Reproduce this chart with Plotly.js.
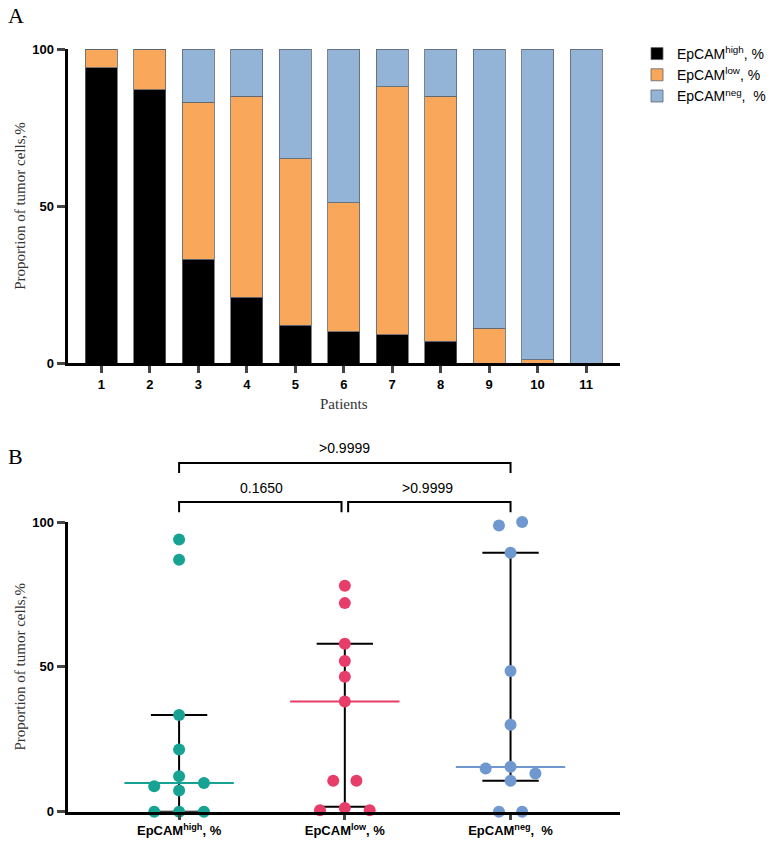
<!DOCTYPE html>
<html>
<head>
<meta charset="utf-8">
<script src="https://cdn.plot.ly/plotly-3.0.1.min.js"></script>
<style>
    html, body { margin: 0; padding: 0; background: #fff; }
    #chart { width: 771px; height: 844px; }
</style>
</head>
<body>
<div id="chart"></div>
<script>
// Panel A: stacked proportions per patient
const patients = [1, 2, 3, 4, 5, 6, 7, 8, 9, 10, 11];
const highPct = [94, 87, 33, 21, 12, 10, 9, 7, 0, 0, 0];
const lowPct = [6, 13, 50, 64, 53, 41, 79, 78, 11, 1, 0];
const negPct = [0, 0, 17, 15, 35, 49, 12, 15, 89, 99, 100];
const seriesNames = ['EpCAM<sup>high</sup>, %', 'EpCAM<sup>low</sup>, %', 'EpCAM<sup>neg</sup>,  %'];

// Panel B: individual values per group (with horizontal scatter offset)
const groupLabels = ['EpCAM<sup>high</sup>, %', 'EpCAM<sup>low</sup>, %', 'EpCAM<sup>neg</sup>,  %'];
const highVals = [94, 87, 33.4, 21.5, 12.2, 9.9, 8.8, 7.3, 0, 0, 0];
const highJitter = [0, 0, 0, 0, 0, 0.15, -0.15, 0, -0.15, 0, 0.15];
const lowVals = [78, 72, 58, 52, 46.6, 38, 10.7, 10.7, 1.3, 0.5, 0.5];
const lowJitter = [0, 0, 0, 0, 0, 0, -0.07, 0.07, 0, -0.15, 0.15];
const negVals = [100, 98.8, 89.4, 48.6, 30, 15.5, 14.9, 13.2, 10.7, 0, 0];
const negJitter = [0.07, -0.07, 0, 0, 0, 0, -0.15, 0.15, 0, -0.07, 0.07];
const medians = [9.9, 38, 15.4];
const q1 = [0, 1.7, 10.7];
const q3 = [33.4, 58, 89.4];

// Multiple comparisons: [groupA, groupB, p-value, level]
const comparisons = [[0, 1, '0.1650', 0], [1, 2, '>0.9999', 0], [0, 2, '>0.9999', 1]];

const barColors = ['#000000', '#f9a75b', '#93b4d7'];
const dotColors = ['#17a394', '#e83c69', '#6f98d0'];

const FONT_SANS = 'Liberation Sans, Arial, sans-serif';
const FONT_SERIF = 'Liberation Serif, DejaVu Serif, serif';

// Plot geometry (paper fractions)
const xDomain = [0.0882, 0.8093];
const yDomainA = [0.5699, 0.9419];
const yDomainB = [0.0383, 0.3815];

let data = [];

// Stacked bars
[highPct, lowPct, negPct].forEach(function(vals, i) {
    data.push({
        x: patients,
        y: vals,
        name: seriesNames[i],
        type: 'bar',
        width: 0.66,
        xaxis: 'x',
        yaxis: 'y',
        legendgroup: 'g' + i,
        marker: {
            color: barColors[i],
            line: { color: '#5b6570', width: 0.8 }
        }
    })
});

// Median + interquartile range lines
for (let g = 0; g < 3; g++) {
    data.push({
        x: [g, g],
        y: [q1[g], q3[g]],
        mode: 'lines',
        xaxis: 'x2', yaxis: 'y2',
        showlegend: false,
        line: { color: '#000', width: 2 }
    });
    [q1[g], q3[g]].forEach(function(v) {
        data.push({
            x: [g - 0.17, g + 0.17],
            y: [v, v],
            mode: 'lines',
            xaxis: 'x2', yaxis: 'y2',
            showlegend: false,
            line: { color: '#000', width: 2 }
        })
    });
    data.push({
        x: [g - 0.33, g + 0.33],
        y: [medians[g], medians[g]],
        mode: 'lines',
        xaxis: 'x2', yaxis: 'y2',
        showlegend: false,
        line: { color: dotColors[g], width: 2 }
    });
}

// Individual points
[[highVals, highJitter], [lowVals, lowJitter], [negVals, negJitter]].forEach(function(pair, g) {
    data.push({
        x: pair[1].map(function(j) { return g + j; }),
        y: pair[0],
        mode: 'markers',
        xaxis: 'x2', yaxis: 'y2',
        showlegend: false,
        cliponaxis: false,
        marker: { color: dotColors[g], size: 12, line: { width: 0 } }
    })
});

// Brackets for comparisons (drawn in paper y, computed from y2 data units)
function yPaperB(v) {
    return yDomainB[0] + v / 100 * (yDomainB[1] - yDomainB[0]);
}
let shapes = [];
let annotations = [];
for (let c of comparisons) {
    let top = 106.9 + c[3] * 13.5;
    let foot = top - 3.5;
    let shrink = c[3] === 0 ? 0.02 : 0;
    let xa = c[0] + (c[0] === 1 ? shrink : 0);
    let xb = c[1] - (c[1] === 1 ? shrink : 0);
    shapes.push({
        type: 'path',
        xref: 'x2', yref: 'paper',
        path: 'M ' + xa + ' ' + yPaperB(foot) + ' L ' + xa + ' ' + yPaperB(top) +
              ' L ' + xb + ' ' + yPaperB(top) + ' L ' + xb + ' ' + yPaperB(foot),
        line: { color: '#000', width: 2 }
    });
    annotations.push({
        text: c[2],
        xref: 'x2', yref: 'paper',
        x: (c[0] + c[1]) / 2,
        y: yPaperB(top + 5),
        showarrow: false,
        font: { family: FONT_SANS, size: 14, color: '#000' }
    });
}

// Panel letters
annotations.push({
    text: 'A', xref: 'paper', yref: 'paper', x: 0.008, y: 0.999,
    xanchor: 'left', yanchor: 'top', showarrow: false,
    font: { family: FONT_SERIF, size: 22, color: '#000' }
});
annotations.push({
    text: 'B', xref: 'paper', yref: 'paper', x: 0.008, y: 0.476,
    xanchor: 'left', yanchor: 'top', showarrow: false,
    font: { family: FONT_SERIF, size: 22, color: '#000' }
});

let tickFont = { family: FONT_SANS, size: 13, color: '#000', weight: 'bold' };
let titleFont = { family: FONT_SERIF, size: 15, color: '#333' };

let layout = {
    width: 771,
    height: 844,
    barmode: 'stack',
    paper_bgcolor: '#fff',
    plot_bgcolor: '#fff',
    showlegend: true,
    legend: {
        x: 0.832,
        y: 0.955,
        xanchor: 'left',
        yanchor: 'top',
        traceorder: 'normal',
        tracegroupgap: 6,
        font: { family: FONT_SANS, size: 14, color: '#000' },
        bgcolor: 'rgba(0,0,0,0)'
    },
    shapes: shapes,
    annotations: annotations,
    xaxis: {
        domain: xDomain,
        anchor: 'y',
        range: [0.3, 11.7],
        tickvals: patients,
        ticks: 'outside',
        ticklen: 7,
        tickwidth: 2.5,
        showline: true,
        linewidth: 3,
        linecolor: '#000',
        showgrid: false,
        zeroline: false,
        tickfont: tickFont,
        title: { text: 'Patients', font: titleFont, standoff: 8 }
    },
    yaxis: {
        domain: yDomainA,
        anchor: 'x',
        range: [0, 100],
        tickvals: [0, 50, 100],
        ticks: 'outside',
        ticklen: 8,
        tickwidth: 2.5,
        showline: true,
        linewidth: 3,
        linecolor: '#000',
        showgrid: false,
        zeroline: false,
        tickfont: tickFont,
        title: { text: 'Proportion of tumor cells,%', font: titleFont, standoff: 4 }
    },
    xaxis2: {
        domain: xDomain,
        anchor: 'y2',
        range: [-0.673, 2.66],
        tickvals: [0, 1, 2],
        ticktext: groupLabels,
        ticks: 'outside',
        ticklen: 5,
        tickwidth: 2.5,
        showline: true,
        linewidth: 3,
        linecolor: '#000',
        showgrid: false,
        zeroline: false,
        tickfont: tickFont
    },
    yaxis2: {
        domain: yDomainB,
        anchor: 'x2',
        range: [0, 100],
        tickvals: [0, 50, 100],
        ticks: 'outside',
        ticklen: 8,
        tickwidth: 2.5,
        showline: true,
        linewidth: 3,
        linecolor: '#000',
        showgrid: false,
        zeroline: false,
        tickfont: tickFont,
        title: { text: 'Proportion of tumor cells,%', font: titleFont, standoff: 4 }
    },
    margin: { l: 0, r: 0, t: 0, b: 0 }
};

let config = {
    displayModeBar: false,
    responsive: false
};

Plotly.newPlot(document.getElementById('chart'), data, layout, config);
</script>
</body>
</html>
